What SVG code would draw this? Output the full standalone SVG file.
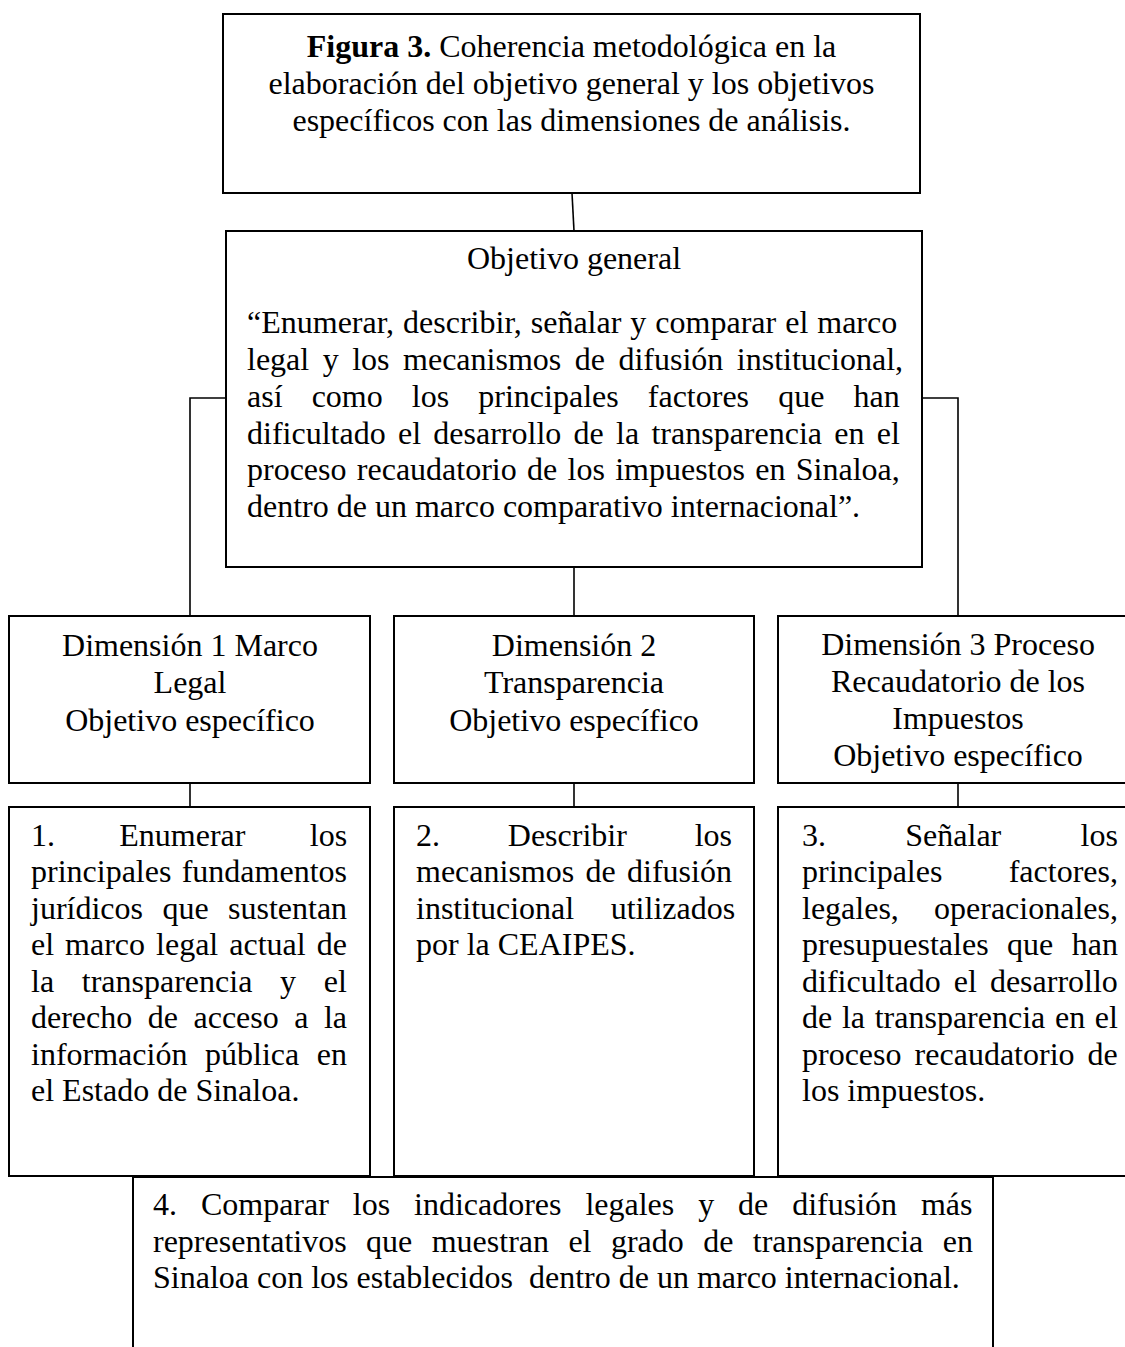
<svg xmlns="http://www.w3.org/2000/svg" width="1125" height="1347" viewBox="0 0 1125 1347">
<style>
.box{fill:#fff;stroke:#000;stroke-width:2}
.con{fill:none;stroke:#000;stroke-width:1.6}
text{font-family:"Liberation Serif","Times New Roman",serif;font-size:32px;fill:#000}
.c{text-anchor:middle}
.b{font-weight:bold}
</style>
<rect width="1125" height="1347" fill="#fff"/>
<g id="connectors">
<line class="con" x1="572" y1="193" x2="574" y2="231"/>
<polyline class="con" points="226,398 190,398 190,616"/>
<polyline class="con" points="922,398 958,398 958,616"/>
<line class="con" x1="574" y1="567" x2="574" y2="616"/>
<line class="con" x1="190" y1="783" x2="190" y2="807"/>
<line class="con" x1="574" y1="783" x2="574" y2="807"/>
<line class="con" x1="958" y1="783" x2="958" y2="807"/>
</g>
<g id="title">
<rect class="box" x="223" y="14" width="697" height="179"/>
<text class="c" x="571.5" y="57"><tspan class="b">Figura 3.</tspan> Coherencia metodológica en la</text>
<text class="c" x="571.5" y="94">elaboración del objetivo general y los objetivos</text>
<text class="c" x="571.5" y="130.5">específicos con las dimensiones de análisis.</text>
</g>
<g id="objetivo-general">
<rect class="box" x="226" y="231" width="696" height="336"/>
<text class="c" x="574" y="269">Objetivo general</text>
<text x="247" y="333" word-spacing="1">“Enumerar, describir, señalar y comparar el marco</text>
<text x="247" y="370" word-spacing="5.5">legal y los mecanismos de difusión institucional,</text>
<text x="247" y="406.5" word-spacing="21.1">así como los principales factores que han</text>
<text x="247" y="443.5" word-spacing="4.3">dificultado el desarrollo de la transparencia en el</text>
<text x="247" y="480" word-spacing="2.3">proceso recaudatorio de los impuestos en Sinaloa,</text>
<text x="247" y="517">dentro de un marco comparativo internacional”.</text>
</g>
<g id="dimension-1">
<rect class="box" x="9" y="616" width="361" height="167"/>
<text class="c" x="190" y="656">Dimensión 1 Marco</text>
<text class="c" x="190" y="693">Legal</text>
<text class="c" x="190" y="730.5">Objetivo específico</text>
</g>
<g id="dimension-2">
<rect class="box" x="394" y="616" width="360" height="167"/>
<text class="c" x="574" y="656">Dimensión 2</text>
<text class="c" x="574" y="693">Transparencia</text>
<text class="c" x="574" y="730.5">Objetivo específico</text>
</g>
<g id="dimension-3">
<rect class="box" x="778" y="616" width="362" height="167"/>
<text class="c" x="958" y="655">Dimensión 3 Proceso</text>
<text class="c" x="958" y="692">Recaudatorio de los</text>
<text class="c" x="958" y="728.5">Impuestos</text>
<text class="c" x="958" y="765.5">Objetivo específico</text>
</g>
<g id="objetivo-especifico-1">
<rect class="box" x="9" y="807" width="361" height="369"/>
<text x="31" y="845.5" word-spacing="56.3">1. Enumerar los</text>
<text x="31" y="882" word-spacing="2.3">principales fundamentos</text>
<text x="31" y="918.5" word-spacing="11.4">jurídicos que sustentan</text>
<text x="31" y="955" word-spacing="3">el marco legal actual de</text>
<text x="31" y="991.5" word-spacing="19.7">la transparencia y el</text>
<text x="31" y="1028" word-spacing="7.5">derecho de acceso a la</text>
<text x="31" y="1064.5" word-spacing="9.6">información pública en</text>
<text x="31" y="1101">el Estado de Sinaloa.</text>
</g>
<g id="objetivo-especifico-2">
<rect class="box" x="394" y="807" width="360" height="369"/>
<text x="416" y="845.5" word-spacing="59.8">2. Describir los</text>
<text x="416" y="882" word-spacing="3.3">mecanismos de difusión</text>
<text x="416" y="918.5" word-spacing="28.5">institucional utilizados</text>
<text x="416" y="955">por la CEAIPES.</text>
</g>
<g id="objetivo-especifico-3">
<rect class="box" x="778" y="807" width="362" height="369"/>
<text x="802" y="845.5" word-spacing="71.3">3. Señalar los</text>
<text x="802" y="882" word-spacing="58.3">principales factores,</text>
<text x="802" y="918.5" word-spacing="27.2">legales, operacionales,</text>
<text x="802" y="955" word-spacing="10.5">presupuestales que han</text>
<text x="802" y="991.5" word-spacing="5.1">dificultado el desarrollo</text>
<text x="802" y="1028" word-spacing="1.7">de la transparencia en el</text>
<text x="802" y="1064.5" word-spacing="5.1">proceso recaudatorio de</text>
<text x="802" y="1101">los impuestos.</text>
</g>
<g id="objetivo-especifico-4">
<rect class="box" x="133" y="1177" width="860" height="200"/>
<text x="153" y="1215" word-spacing="15.9">4. Comparar los indicadores legales y de difusión más</text>
<text x="153" y="1251.5" word-spacing="11.4">representativos que muestran el grado de transparencia en</text>
<text x="153" y="1288" xml:space="preserve">Sinaloa con los establecidos  dentro de un marco internacional.</text>
</g>
</svg>
